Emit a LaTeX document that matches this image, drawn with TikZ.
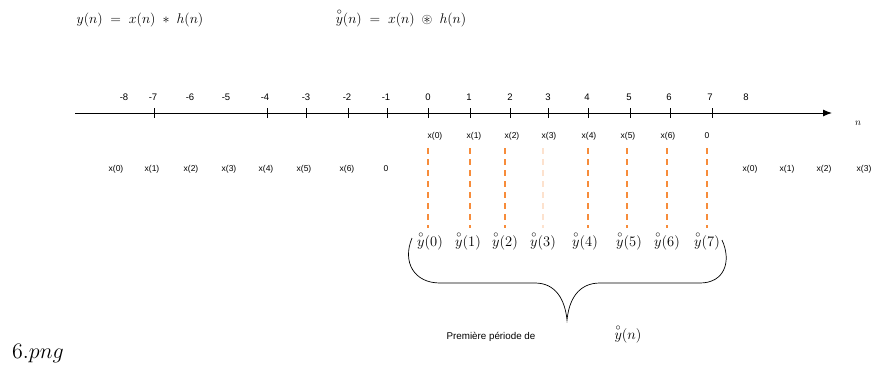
\RequirePackage{fix-cm}
\documentclass[tikz,border=0pt]{standalone}
\usepackage{amsmath}
\usepackage{amssymb}
\usepackage{fontspec}
\newfontfamily\arial{Liberation Sans}
\usetikzlibrary{arrows.meta}
\definecolor{dor}{RGB}{247,140,58}
\newcommand{\yc}{\overset{\circ}{y}}
\begin{document}
\begin{tikzpicture}[x=1pt,y=-1pt,
  ax/.style={font=\arial\fontsize{9.5}{11}\selectfont, inner sep=1pt},
  sm/.style={font=\arial\fontsize{8.5}{10}\selectfont, inner sep=1pt},
  yh/.style={font=\fontsize{14.5}{16}\selectfont, inner sep=0.5pt},
  eq/.style={font=\fontsize{14}{16}\selectfont, inner sep=1pt},
  tickmark/.style={line width=0.8pt},
  samp/.style={draw=dor, dash pattern=on 6pt off 5pt, line width=1.1pt},
  bracestyle/.style={draw, line width=0.7pt}]
\useasboundingbox (0,0) rectangle (874,368);
% formulas
\node[eq] (f1) at (140,20) {$y(n)\;=\;x(n)\;*\;h(n)$};
\node[eq] (f2) at (401,18) {$\yc(n)\;=\;x(n)\;\circledast\;h(n)$};
% axis
\coordinate (a0) at (75,113);
\coordinate (a1) at (832,113);
\draw[line width=1pt,-{Latex[length=9pt,width=7pt]}] (a0) -- (a1);
\node (nlab) at (858,123) {$n$};
% axis labels
\foreach \i/\v/\x in {1/-8/124,2/-7/153,3/-6/190,4/-5/226,5/-4/265,6/-3/306,7/-2/347,8/-1/386,
  9/0/428,10/1/469,11/2/510,12/3/548,13/4/587,14/5/629,15/6/669,16/7/710,17/8/746}
  \node[ax] (l\i) at (\x,97) {\v};
% ticks
\foreach \x in {154,267,306,348,387,428,470,510,548,588,630,670,712}
  \draw[tickmark] (\x,108) -- (\x,118);
% row 1
\foreach \i/\t/\x in {0/x(0)/435,1/x(1)/474,2/x(2)/512,3/x(3)/549,4/x(4)/589,5/x(5)/628,6/x(6)/668,7/0/707}
  \node[sm] (r\i) at (\x,136) {\t};
% row 2 left
\foreach \i/\t/\x in {0/x(0)/116,1/x(1)/152,2/x(2)/191,3/x(3)/229,4/x(4)/266,5/x(5)/304,6/x(6)/347,7/0/386}
  \node[sm] (p\i) at (\x,169) {\t};
% row 2 right
\foreach \i/\t/\x in {0/x(0)/750,1/x(1)/787,2/x(2)/824,3/x(3)/864}
  \node[sm] (q\i) at (\x,169) {\t};
% dashed sample lines
\foreach \i/\x in {0/428,1/470,2/505,3/543,4/588,5/627,6/667,7/707}{
  \coordinate (dt\i) at (\x,148);
  \coordinate (db\i) at (\x,228);
}
\foreach \i in {0,1,2,4,5,6,7}
  \draw[samp] (dt\i) -- (db\i);
\draw[samp, draw=dor!25] (dt3) -- (db3);
% yhat labels
\foreach \i/\x in {0/430,1/468,2/505,3/543,4/585,5/629,6/667,7/707}
  \node[yh] (y\i) at (\x,241) {$\yc(\i)$};
% brace
\draw[bracestyle] (412,238) .. controls (402,262) and (414,283) .. (440,283)
  -- (535,283) .. controls (556,283) and (565,300) .. (567,320)
  .. controls (569,300) and (578,283) .. (600,283)
  -- (700,283) .. controls (724,283) and (732,262) .. (722,240);
% caption
\node[font=\arial\fontsize{9.8}{11}\selectfont, inner sep=1pt] (cap) at (491,337) {Première période de};
\node[yh] (capy) at (628,334) {$\yc(n)$};
% file name
\node[font=\fontsize{22}{24}\selectfont, inner sep=1pt] (fn) at (38,354) {$\mathnormal{6.png}$};
\end{tikzpicture}
\end{document}
